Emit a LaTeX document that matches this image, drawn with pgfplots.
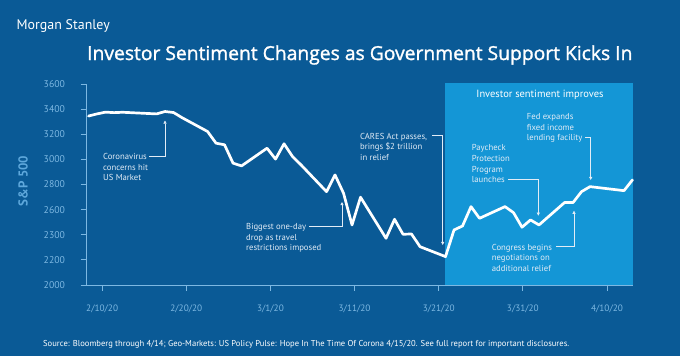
\documentclass[border=0pt]{standalone}
\usepackage{fontspec}
\setmainfont{PT Sans}
\newfontfamily\titlefont{Open Sans}[FakeBold=1.4]
\usepackage{pgfplots}
\usepackage{pgfplotstable}
\pgfplotsset{compat=1.18}
\usetikzlibrary{arrows.meta}
\definecolor{bg}{HTML}{0A5A96}
\definecolor{boxc}{HTML}{1496D6}
\definecolor{axc}{HTML}{7DB8E2}
\definecolor{tl}{HTML}{7DB8E2}
\definecolor{ylab}{HTML}{5EA8DC}
\definecolor{ann}{HTML}{E2ECF6}
\pgfplotstableread{
d v
0 3345
1 3362
2 3376
3 3372
4 3375
8 3362
9 3381
10 3373
11 3332
14 3222
15 3129
16 3116
17 2970
18 2948
21 3089
22 3002
23 3124
24 3022
25 2956
28 2743
29 2876
30 2731
31 2478
32 2699
35 2372
36 2523
37 2404
38 2406
39 2305
42 2226
43 2438
44 2470
45 2624
46 2531
49 2624
50 2576
51 2460
52 2518
53 2478
56 2656
57 2656
58 2743
59 2783
63 2751
64 2837
}\spx
\begin{document}
\begin{tikzpicture}[x=1bp,y=1bp,
  ann/.style={anchor=base west, inner sep=0pt, text=ann, font=\fontsize{8.7}{10.5}\selectfont},
  leadarr/.style={draw=ann, line width=0.7bp, -{Triangle[length=3.2bp,width=3.2bp]}}]
\fill[bg] (0,0) rectangle (680,356);
\fill[boxc] (445,71) rectangle (633,273);
\begin{axis}[
  at={(86bp,71bp)}, anchor=south west,
  scale only axis, width=547bp, height=201bp,
  xmin=-0.3, xmax=64.06, ymin=2000, ymax=3600,
  axis x line=bottom, axis y line=left,
  axis line style={axc, line width=0.9bp, -},
  tick style={axc, line width=0.9bp},
  tick align=outside, major tick length=5.5bp,
  xtick={1.6,11.5,21.4,31.3,41.2,51.1,61.0},
  xticklabels={2/10/20,2/20/20,3/1/20,3/11/20,3/21/20,3/31/20,4/10/20},
  ytick={2000,2200,2400,2600,2800,3000,3200,3400,3600},
  yticklabels={2000,2200,2300,2600,2800,3000,3200,3400,3600},
  ticklabel style={text=tl},
  xticklabel style={font=\fontsize{9.3}{11}\selectfont, yshift=-11bp},
  yticklabel style={font=\fontsize{9.8}{11}\selectfont, xshift=-12bp},
  /pgf/number format/assume math mode=true,
  clip=false,
]
\addplot[white, line width=2.7bp, line join=round, line cap=round] table[x=d, y=v] {\spx};
\end{axis}
% y label
\node[rotate=90, inner sep=0pt, text=ylab, font=\bfseries\fontsize{13}{16}\selectfont] at (23,175) {S\&P 500};
% header
\node[anchor=base west, inner sep=0pt, text=white, font=\fontsize{14}{16}\selectfont] at (16.5,327) {Morgan Stanley};
\node[anchor=base west, inner sep=0pt, text=white, font=\titlefont\fontsize{19.35}{22}\selectfont] at (87,296) {Investor Sentiment Changes as Government Support Kicks In};
% box title
\node[anchor=base, inner sep=0pt, text=white, font=\fontsize{10.5}{12}\selectfont] at (540,258.2) {Investor sentiment improves};
% annotation 1
\node[ann] at (103,196.5) {Coronavirus};
\node[ann] at (103,185.8) {concerns hit};
\node[ann] at (103,175.2) {US Market};
\draw[leadarr] (149,200) -- (165,200) -- (165,235.5);
% annotation 2
\node[ann] at (246,126.5) {Biggest one-day};
\node[ann] at (246,115.8) {drop as travel};
\node[ann] at (246,105.2) {restrictions imposed};
\draw[leadarr] (309,130) -- (342,130) -- (342,154);
% annotation 3
\node[ann] at (360,216.8) {CARES Act passes,};
\node[ann] at (360,206.3) {brings \$2 trillion};
\node[ann] at (360,195.8) {in relief};
\draw[leadarr] (432,220.3) -- (442.7,220.3) -- (442.7,111);
% annotation 5
\node[ann] at (526.7,236.5) {Fed expands};
\node[ann] at (526.7,225.8) {fixed income};
\node[ann] at (526.7,215.2) {lending facility};
\draw[leadarr] (585,218.7) -- (590.7,218.7) -- (590.7,176);
% annotation 6
\node[ann] at (471.7,205.2) {Paycheck};
\node[ann] at (471.7,194.5) {Protection};
\node[ann] at (471.7,183.8) {Program};
\node[ann] at (471.7,173.2) {launches};
\draw[leadarr] (508,176.7) -- (538.3,176.7) -- (538.3,140.3);
% annotation 7
\node[ann] at (491.7,105.8) {Congress begins};
\node[ann] at (491.7,95.2) {negotiations on};
\node[ann] at (491.7,84.5) {additional relief};
\draw[leadarr] (556,109.3) -- (574,109.3) -- (574,145.3);
% source
\node[anchor=base west, inner sep=0pt, text=white, font=\fontsize{8.6}{10}\selectfont] at (43,10) {Source: Bloomberg through 4/14; Geo-Markets: US Policy Pulse: Hope In The Time Of Corona 4/15/20. See full report for important disclosures.};
\pgfresetboundingbox
\useasboundingbox (0,0) rectangle (680,356);
\end{tikzpicture}
\end{document}
